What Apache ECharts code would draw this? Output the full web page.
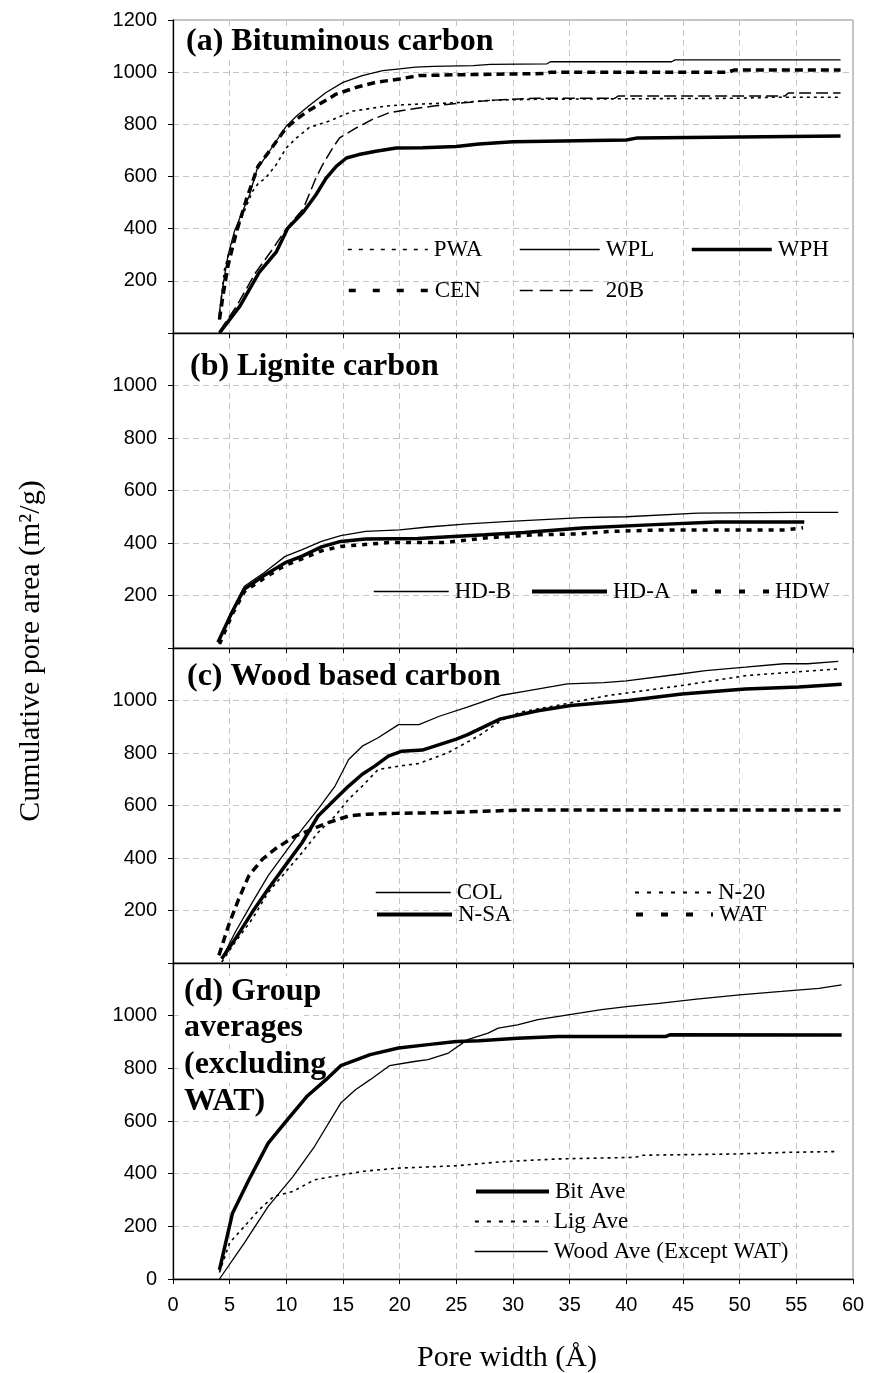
<!DOCTYPE html>
<html>
<head>
<meta charset="utf-8">
<script src="https://cdn.jsdelivr.net/npm/echarts@6/dist/echarts.min.js"></script>
<style>
  html, body { margin: 0; padding: 0; background: #fff; }
  #chart { width: 870px; height: 1373px; }
</style>
</head>
<body>
<div id="chart"></div>
<script>
// pore width (A), cumulative pore area (m2/g)

// (a) bituminous
var PWA = [[4.05,52],[4.55,245],[5.3,361],[5.9,426],[7.0,542],[7.6,578],[8.1,590],[9.1,645],[10,710],[10.9,748],[12,787],[13.8,813],[15.9,851],[17,858],[18.8,870],[20.3,875],[22,878],[25,883],[28.5,893],[32,896],[40,898],[50,900],[53,904],[58.9,904]];
var WPL = [[4.05,64],[4.4,180],[4.85,297],[5.4,387],[6.0,452],[6.75,529],[7.4,626],[7.9,658],[8.8,716],[10,793],[10.9,832],[12,871],[13.5,922],[15,961],[16.7,987],[18.5,1006],[20,1013],[21.4,1019],[23,1022],[26.5,1025],[28,1030],[33,1032],[33.3,1040],[44,1040],[44.3,1047],[58.9,1047]];
var WPH = [[4.1,0],[5.9,103],[7.6,232],[9.1,310],[10.1,400],[11.5,464],[12.6,529],[13.5,593],[14.4,639],[15.3,671],[16.4,684],[17.9,697],[19.7,709],[22,710],[25,715],[27,725],[30,733],[40,740],[41,748],[58.9,755]];
var CEN = [[4.1,52],[4.4,140],[4.85,258],[5.6,387],[6.5,516],[7.5,639],[8.5,697],[10,787],[10.9,819],[11.7,845],[12.9,877],[14.4,916],[16.2,942],[17.9,961],[20,974],[21.7,987],[25,990],[30,993],[33,995],[33.3,1000],[49,1000],[49.5,1008],[58.9,1008]];
var B20 = [[4.1,6],[5.6,103],[7.3,232],[8.8,322],[10,400],[11.5,477],[12.6,593],[13.2,645],[14.1,710],[14.7,748],[16.2,787],[17.6,819],[19.1,845],[20.9,858],[23,870],[25,880],[28,892],[32,900],[39,900],[39.3,909],[54,909],[54.3,920],[58.9,920]];

// (b) lignite
var HDB = [[3.97,22],[5.25,146],[6.3,235],[8,286],[9.9,349],[11.4,375],[13.1,406],[14.8,428],[17,444],[20,450],[22.5,461],[26,473],[29.7,482],[36.1,497],[40,500],[46.3,514],[54.7,517],[58.7,517]];
var HDA = [[3.97,22],[5.25,140],[6.3,225],[8,275],[9.9,325],[11.4,350],[13.1,385],[14.8,406],[17,415],[21.6,417],[27.5,431],[31,440],[36.1,457],[42.5,470],[48,480],[55.7,480]];
var HDW = [[4.1,15],[5.25,130],[6.3,215],[8,265],[9.9,315],[11.4,340],[13.1,370],[14.8,387],[19.1,402],[24,402],[27.5,419],[31.9,431],[36,435],[38.6,444],[43.3,450],[54,450],[55.6,458]];

// (c) wood based
var COL = [[4.3,16],[5.5,118],[7.0,231],[8.4,333],[9.9,421],[11.4,510],[12.8,586],[14.3,674],[15.5,775],[16.7,826],[18.1,858],[19.9,908],[21.7,908],[23.5,940],[25.9,974],[28.9,1019],[31,1035],[34.8,1063],[38,1068],[40,1075],[44.6,1100],[47,1114],[50.5,1127],[53.9,1140],[56,1140],[58.7,1149]];
var NSA = [[4.3,16],[5.5,92],[7.0,194],[8.4,282],[9.9,371],[11.4,459],[12.8,560],[14.3,624],[15.5,674],[16.7,719],[17.8,750],[19.0,788],[20.2,807],[22,811],[25,853],[26,870],[28.9,930],[32.2,961],[35.1,981],[40.2,1000],[44.9,1025],[50.5,1044],[55.2,1051],[59,1062]];
var N20 = [[4.3,4],[5.5,80],[7,168],[8.4,269],[9.9,345],[11.4,421],[12.8,497],[14.3,560],[15.5,624],[16.7,674],[18.1,737],[19.9,750],[21.7,760],[24.3,802],[27,866],[29,925],[30.6,955],[34.7,988],[38.4,1019],[44.9,1057],[50.6,1095],[58.6,1120]];
var WAT = [[4.05,29],[4.9,143],[5.8,244],[6.7,333],[7.9,396],[9.0,434],[10.8,484],[12.3,510],[13.7,535],[15.5,560],[17.2,567],[19.6,570],[24,573],[30.9,583],[58.9,583]];

// (d) group averages
var BIT = [[4.1,35],[5.25,250],[6.7,377],[8.4,516],[10.1,605],[11.8,693],[13.5,757],[14.8,810],[17.4,852],[19.9,877],[22.5,890],[25,902],[27,905],[30.4,914],[34,921],[43.5,921],[43.9,928],[59,927]];
var LIG = [[4.1,25],[5,138],[6.3,200],[7.6,263],[8.9,314],[10.6,333],[12.5,377],[14.8,395],[17,410],[19.9,421],[25,430],[28.9,445],[34,456],[40.8,462],[41.5,470],[50,475],[54.2,481],[58.5,484]];
var WOOD = [[4.1,0],[6.3,137],[8.4,276],[10.6,390],[12.5,504],[14.8,668],[16.1,719],[17.4,757],[19.1,810],[21.3,826],[22.5,833],[24.3,858],[26,909],[27.8,934],[28.7,953],[30.4,965],[32.2,985],[35,1004],[37.8,1023],[40.2,1035],[42.9,1047],[46.2,1063],[50,1079],[53.7,1092],[57,1104],[59,1117]];

var xTicks = [0, 60, 5];
var yTicks = [0, 1200, 200];

var chart = echarts.init(document.getElementById('chart'));

// line looks
var thin = { color: '#000', width: 1.3, type: 'solid' };
var thick = { color: '#000', width: 3.5, type: 'solid' };
var dot = { color: '#000', width: 1.6, type: [3, 4] };
var bigDash = { color: '#000', width: 3.5, type: [8, 5] };
var longDash = { color: '#000', width: 1.5, type: [12, 5] };
var bigDot = { color: '#000', width: 3.5, type: [5, 6] };

var tops = [20, 333, 648, 963];
var heights = [313, 315, 315, 316];

var grids = [], xAxes = [], yAxes = [];
tops.forEach(function (t, i) {
  grids.push({ left: 173, width: 680, top: t, height: heights[i], show: true, borderColor: '#8c8c8c', borderWidth: 1, backgroundColor: 'transparent' });
  xAxes.push({
    type: 'value', gridIndex: i, min: xTicks[0], max: xTicks[1], interval: xTicks[2],
    axisLine: { show: true, onZero: false, lineStyle: { color: '#000', width: 1.3 } },
    axisTick: { show: true, length: 5, lineStyle: { color: '#000' } },
    axisLabel: { show: i === 3, margin: 16, color: '#000', fontSize: 20, fontFamily: 'Liberation Sans' },
    splitLine: { show: true, lineStyle: { color: '#c4c4c4', type: [6, 4] } }
  });
  yAxes.push({
    type: 'value', gridIndex: i, min: yTicks[0], max: yTicks[1], interval: yTicks[2],
    axisLine: { show: true, onZero: false, lineStyle: { color: '#000', width: 1.3 } },
    axisTick: { show: true, length: 5, lineStyle: { color: '#000' } },
    axisLabel: {
      margin: 16, color: '#000', fontSize: 20, fontFamily: 'Liberation Sans',
      formatter: function (v) {
        if (v === 1200 && i > 0) return '';
        if (v === 0 && i < 3) return '';
        return String(v);
      }
    },
    splitLine: { show: true, lineStyle: { color: '#c4c4c4', type: [6, 4] } }
  });
});

function line(name, data, g, style) {
  return { name: name, type: 'line', data: data, xAxisIndex: g, yAxisIndex: g, symbol: 'none', lineStyle: style, itemStyle: { color: '#000' }, animation: false, silent: true };
}

var series = [
  line('PWA', PWA, 0, dot), line('WPL', WPL, 0, thin), line('WPH', WPH, 0, thick), line('CEN', CEN, 0, bigDash), line('20B', B20, 0, longDash),
  line('HD-B', HDB, 1, thin), line('HD-A', HDA, 1, thick), line('HDW', HDW, 1, bigDot),
  line('COL', COL, 2, thin), line('N-20', N20, 2, dot), line('N-SA', NSA, 2, thick), line('WAT', WAT, 2, bigDash),
  line('Bit Ave', BIT, 3, thick), line('Lig Ave', LIG, 3, dot), line('Wood Ave (Except WAT)', WOOD, 3, thin)
];

// one legend box per entry so each sits where it does in the figure
function leg(name, left, cy, w, style) {
  return {
    left: left, top: cy - 12, padding: 0, itemWidth: w, itemHeight: 14, selectedMode: false,
    data: [{ name: name, lineStyle: style, itemStyle: { opacity: 0, borderWidth: 0 } }],
    textStyle: { color: '#000', fontSize: 23, fontFamily: 'Liberation Serif', padding: [0, 0, 0, 1] }
  };
}

var legends = [
  leg('PWA', 347, 250, 80, { width: 1.6, type: [4, 7] }),
  leg('WPL', 519, 250, 80, { width: 1.5, type: 'solid' }),
  leg('WPH', 690, 250, 80, { width: 3.5, type: 'solid' }),
  leg('CEN', 347, 291, 80, { width: 3.5, type: [7, 17] }),
  leg('20B', 519, 291, 80, { width: 1.5, type: [13, 7] }),
  leg('HD-B', 373, 592, 75, { width: 1.5, type: 'solid' }),
  leg('HD-A', 530, 592, 75, { width: 4, type: 'solid' }),
  leg('HDW', 689, 592, 78, { width: 4, type: [6, 18] }),
  leg('COL', 375, 893, 75, { width: 1.5, type: 'solid' }),
  leg('N-20', 634, 893, 77, { width: 2, type: [4, 8] }),
  leg('N-SA', 375, 915, 75, { width: 4, type: 'solid' }),
  leg('WAT', 634, 915, 77, { width: 4, type: [7, 18] }),
  leg('Bit Ave', 474, 1192, 73, { width: 4, type: 'solid' }),
  leg('Lig Ave', 474, 1222, 73, { width: 1.8, type: [4, 8] }),
  leg('Wood Ave (Except WAT)', 474, 1252, 73, { width: 1.5, type: 'solid' })
];

var titleFont = { fill: '#000', fontSize: 32, fontWeight: 'bold', fontFamily: 'Liberation Serif', verticalAlign: 'middle', backgroundColor: '#fff', padding: [0, 1] };
function label(txt, x, y, extra) {
  var st = Object.assign({}, titleFont, { text: txt, x: x, y: y }, extra || {});
  return { type: 'text', style: st, silent: true, z: 1 };
}

var graphics = [
  label('(a) Bituminous carbon', 185, 42),
  label('(b) Lignite carbon', 189, 367),
  label('(c) Wood based carbon', 186, 677),
  label('(d) Group', 183, 992),
  label('averages', 183, 1028),
  label('(excluding', 183, 1065),
  label('WAT)', 183, 1102),
  label('Pore width (Å)', 507, 1358, { fontSize: 30, fontWeight: 'normal', align: 'center', backgroundColor: null }),
  {
    type: 'text', x: 31, y: 651, rotation: Math.PI / 2, silent: true,
    style: { text: 'Cumulative pore area (m²/g)', fill: '#000', fontSize: 30, fontFamily: 'Liberation Serif', align: 'center', verticalAlign: 'middle' }
  }
];

var option = {
  backgroundColor: '#fff',
  animation: false,
  grid: grids,
  xAxis: xAxes,
  yAxis: yAxes,
  legend: legends,
  series: series,
  graphic: graphics
};
option && chart.setOption(option);
</script>
</body>
</html>
